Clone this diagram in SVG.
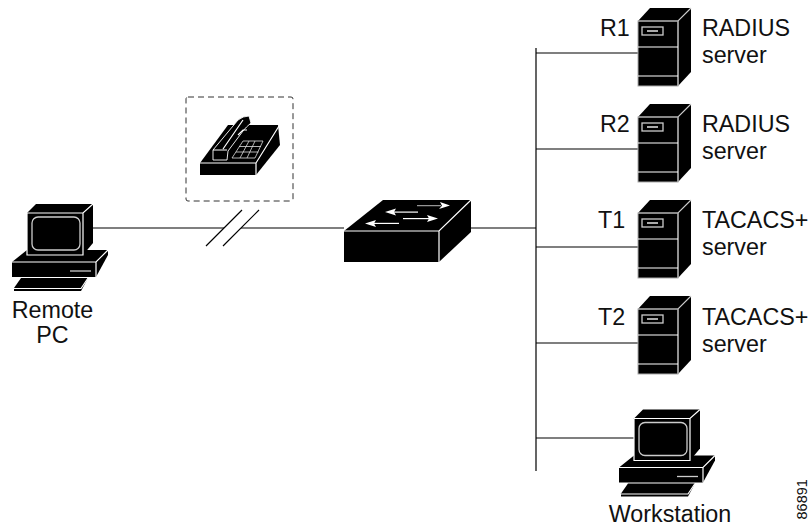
<svg xmlns="http://www.w3.org/2000/svg" xmlns:xlink="http://www.w3.org/1999/xlink" width="810" height="526" viewBox="0 0 810 526">
<style>
text{font-family:"Liberation Sans",Arial,sans-serif;font-size:23.300px;fill:#111}
.c{stroke:#000;stroke-width:1.2;fill:none}
.k{fill:#000;stroke:#fff;stroke-width:1;stroke-linejoin:round}
.w{fill:none;stroke:#fff;stroke-width:1.200}
.g{fill:none;stroke:#ccc;stroke-width:1.300}
</style>
<defs>
<g id="pc">
<path d="M12 262L27 250H108V255L96 277H12Z" fill="#000"/>
<path class="w" d="M12 262H96L108 250M96 262V277" stroke-width="0.800"/>
<path class="g" d="M70 271H91"/>
<path d="M14 291V288L21 278H88L81 291Z" fill="#000"/>
<path class="w" d="M14 288.500H81L88 278"/>
<path d="M27 213L36 204H93V243L83 255H27Z" fill="#000"/>
<path class="w" d="M27 213H83L93 204M83 213V255H27V213" stroke-width="0.900"/>
<rect class="g" x="32" y="217" width="48" height="33" rx="6"/>
</g>
<g id="server">
<path d="M638 21L650 8H691V72L678 86H638Z" fill="#000"/>
<path d="M638 21H678L691 8M678 21V86" fill="none" stroke="#ccc" stroke-width="1.200"/>
<rect x="638" y="21" width="40" height="65" fill="none" stroke="#aaa" stroke-width="1"/>
<path class="w" d="M638 47H678M638 76H678" stroke-width="1.400"/>
<rect class="g" x="642" y="27" width="21" height="8"/>
<rect x="647" y="30" width="11" height="2" fill="#aaa"/>
</g>
</defs>
<g id="connectors">
<path class="c" d="M93 228H224M241 228H344M471 228H536M536 48V471M536 53H638M536 149H638M536 247H638M536 343H638M536 438H634"/>
<path class="c" d="M206 246L242 210M223 246L259 210"/>
</g>
<g id="remote-pc"><use href="#pc"/><text x="52.500" y="318" text-anchor="middle">Remote</text><text x="52.500" y="343" text-anchor="middle">PC</text></g>
<g id="phone">
<rect x="186" y="97" width="107" height="104" rx="2" fill="none" stroke="#333" stroke-width="1" stroke-dasharray="6 4"/>
<path d="M200 163L228 125H278L280 145L256 175H200Z" fill="#000"/>
<path class="w" d="M200 163H256L279 126M256 163V175" stroke-width="0.800"/>
<path d="M213 150L238 120Q243 116 249 116L251 123Q246 127 243 131L228 151L227 160H213Z" fill="#000" stroke="#fff" stroke-width="0.900"/>
<path class="w" d="M213 150H227M223 149L243 120" stroke-width="0.800"/>
<path class="w" d="M238 135L243 130L247 130" stroke-width="0.800"/>
<path d="M243 141H263L255 158H232Z" fill="#000" stroke="#ddd" stroke-width="0.800"/>
<path d="M239 146.500H261M236 152H258.500M249 141L240 158M255 141L247 158" stroke="#ddd" stroke-width="0.800" fill="none"/>
</g>
<g id="switch">
<path d="M344 231L383 200H471V232L439 262H344Z" fill="#000"/>
<path class="w" d="M344 231H439L471 200M439 231V262"/>
<g fill="#fff" stroke="none">
<path d="M417 205.200H441V206.200H417Z" fill="#bbb"/><path d="M450 205.500L440 202L442 205.700L439 209Z"/>
<path d="M390 211.500H418V212.700H390Z"/><path d="M385 212L396 208.500L394 212L396 215.500Z"/>
<path d="M403 218H429V219.200H403Z"/><path d="M438 218.500L427 215L429 218.600L427 222Z"/>
<path d="M373 222.800H399V224H373Z"/><path d="M365 223.500L376 220L374 223.500L376 227Z"/>
</g>
</g>
<g id="r1"><use href="#server"/><text x="600" y="36">R1</text><text x="702" y="36">RADIUS</text><text x="702" y="63">server</text></g>
<g id="r2"><use href="#server" y="96"/><text x="600" y="132">R2</text><text x="702" y="132">RADIUS</text><text x="702" y="159">server</text></g>
<g id="t1"><use href="#server" y="192"/><text x="598" y="228">T1</text><text x="702" y="228">TACACS+</text><text x="702" y="255">server</text></g>
<g id="t2"><use href="#server" y="288"/><text x="598" y="325">T2</text><text x="702" y="325">TACACS+</text><text x="702" y="352">server</text></g>
<g id="workstation"><use href="#pc" x="607" y="205.500"/><text x="670" y="522" text-anchor="middle">Workstation</text></g>
<text x="807" y="519.500" transform="rotate(-90 807 519.500)" style="font-size:14.500px">86891</text>
</svg>
